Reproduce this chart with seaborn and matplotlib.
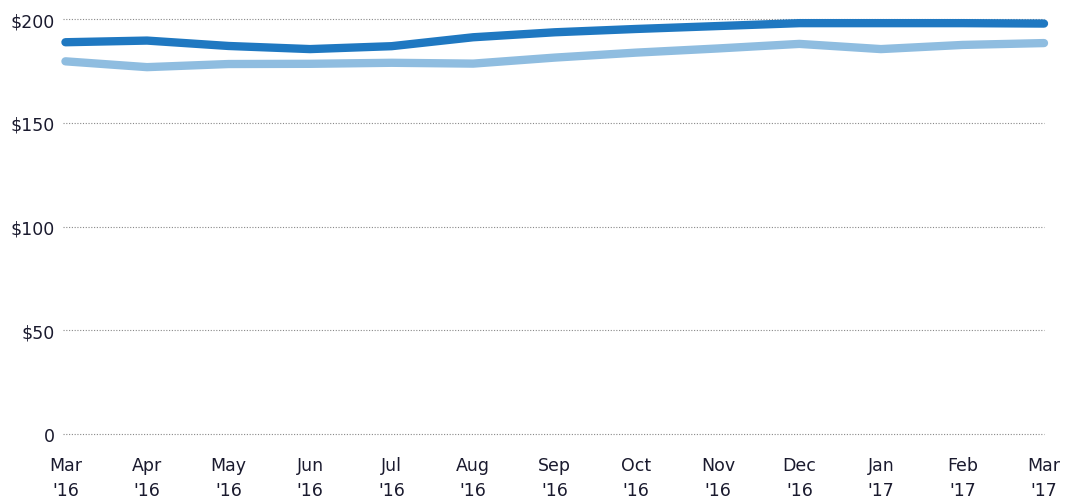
import numpy as np
import pandas as pd
import matplotlib
matplotlib.use("Agg")
import matplotlib.pyplot as plt
import seaborn as sns

months = ["Mar", "Apr", "May", "Jun", "Jul", "Aug", "Sep", "Oct", "Nov", "Dec", "Jan", "Feb", "Mar"]
years = ["'16"] * 10 + ["'17"] * 3
dark_vals = [188.8, 189.6, 187.0, 185.5, 186.9, 191.2, 193.6, 195.2, 196.6, 198.0, 198.0, 198.0, 197.8]
light_vals = [179.6, 176.8, 178.3, 178.4, 178.9, 178.5, 181.4, 183.8, 185.8, 188.0, 185.5, 187.5, 188.4]

sns.set_style("white")
plt.rcParams["font.family"] = ["DejaVu Sans"]

n = len(months)
df = pd.DataFrame({
    "idx": list(range(n)) * 2,
    "price": dark_vals + light_vals,
    "series": ["dark"] * n + ["light"] * n,
})

fig = plt.figure(figsize=(10.81, 5.02), dpi=100)
ax = fig.add_axes([63 / 1081, 67 / 502, (1044 - 63) / 1081, 415 / 502])

sns.lineplot(data=df, x="idx", y="price", hue="series", ax=ax,
             palette={"dark": "#1f78c1", "light": "#8fbde0"},
             hue_order=["light", "dark"],
             linewidth=6.0, legend=False, solid_capstyle="round")
for line in ax.lines:
    line.set_clip_on(False)
    line.set_solid_joinstyle("round")

ax.set_ylim(0, 200)
ax.set_xlim(-0.03, n - 1)
ax.set_yticks([0, 50, 100, 150, 200])
ax.set_yticklabels(["0", "$50", "$100", "$150", "$200"])
ax.set_xticks(range(n))
ax.set_xticklabels([m + "\n" + y for m, y in zip(months, years)], linespacing=1.5)
ax.tick_params(axis="both", length=0, labelsize=12.5, colors="#1a1a2e")
ax.tick_params(axis="x", pad=16)
ax.tick_params(axis="y", pad=6)
ax.grid(axis="y", color="#888888", linestyle=(0, (1, 1.5)), linewidth=0.8)
ax.grid(axis="x", visible=False)
for gl in ax.get_ygridlines():
    gl.set_clip_on(False)
ax.set_axisbelow(True)
sns.despine(ax=ax, left=True, bottom=True)
ax.set_xlabel("")
ax.set_ylabel("")

fig.savefig("out.png", dpi=100)
